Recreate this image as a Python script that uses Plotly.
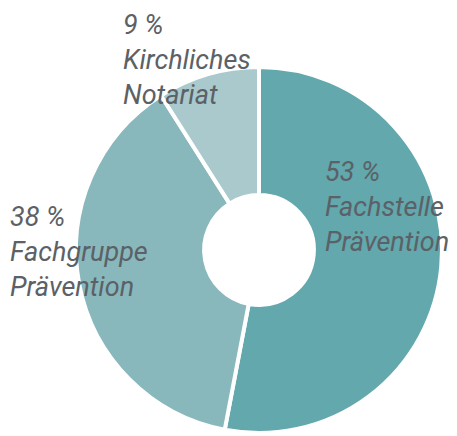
import plotly.graph_objects as go

labels = ["Fachstelle Prävention", "Fachgruppe Prävention", "Kirchliches Notariat"]
values = [53, 38, 9]
colors = ["#62a8ad", "#88b8bc", "#a9c9cc"]
label_texts = ["53 %<br>Fachstelle<br>Prävention", "38 %<br>Fachgruppe<br>Prävention", "9 %<br>Kirchliches<br>Notariat"]
label_pos = [(325, 155), (10, 200), (123, 8)]

W, H = 457, 436
OFF = 8  # page body margin
cx, cy, r = 259 - OFF, 250 - OFF, 183

fig = go.Figure(go.Pie(
    labels=labels, values=values, sort=False, direction="clockwise", rotation=0,
    hole=0.30, textinfo="none", hoverinfo="label+percent",
    marker=dict(colors=colors, line=dict(color="white", width=4)),
    domain=dict(x=[(cx - r) / W, (cx + r) / W], y=[1 - (cy + r) / H, 1 - (cy - r) / H]),
    showlegend=False,
))

for t, (x, y) in zip(label_texts, label_pos):
    fig.add_annotation(text="<i>" + t + "</i>", x=(x - OFF - 1) / W, y=1 - (y - OFF) / H,
                       xref="paper", yref="paper", borderpad=0,
                       xanchor="left", yanchor="top", align="left", showarrow=False,
                       font=dict(family="Roboto", size=27, color="#5b6166"))

fig.update_layout(width=W, height=H, margin=dict(l=0, r=0, t=0, b=0),
                  paper_bgcolor="white", plot_bgcolor="white")
fig.write_html("out.html")
